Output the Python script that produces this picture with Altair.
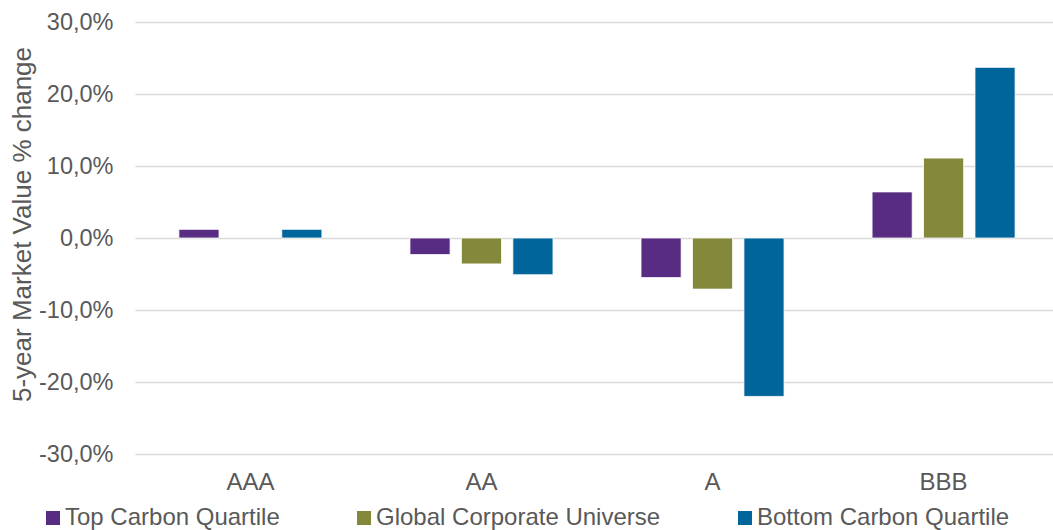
import altair as alt
import pandas as pd

categories = ["AAA", "AA", "A", "BBB"]
series = ["Top Carbon Quartile", "Global Corporate Universe", "Bottom Carbon Quartile"]
top_carbon = [0.012, -0.023, -0.055, 0.064]
global_corp = [None, -0.036, -0.071, 0.111]
bottom_carbon = [0.012, -0.051, -0.220, 0.237]
colors = ["#582C83", "#84883A", "#00659A"]
y_ticks = [-0.3, -0.2, -0.1, 0.0, 0.1, 0.2, 0.3]

rows = []
for s, vals in zip(series, [top_carbon, global_corp, bottom_carbon]):
    for c, v in zip(categories, vals):
        rows.append({"rating": c, "series": s, "value": v})
df = pd.DataFrame(rows)

FONT = "Liberation Sans"
GRAY = "#595959"

chart = alt.Chart(df).mark_bar(stroke="white", strokeWidth=0.8).encode(
    x=alt.X("rating:N", sort=categories, title=None,
            scale=alt.Scale(range=[0, 924], paddingInner=0.381, paddingOuter=0.19),
            axis=alt.Axis(labelAngle=0, labelFont=FONT, labelFontSize=24,
                          labelColor=GRAY, labelPadding=16, ticks=False,
                          domain=False, grid=False)),
    xOffset=alt.XOffset("series:N", sort=series,
                        scale=alt.Scale(paddingInner=0.22, paddingOuter=0.0)),
    y=alt.Y("value:Q", title="5-year Market Value % change",
            scale=alt.Scale(domain=[-0.3, 0.3], nice=False, zero=False),
            axis=alt.Axis(values=y_ticks,
                          labelExpr="replace(replace(format(datum.value, '.1%'), '.', ','), '\u2212', '-')",
                          labelFont=FONT, labelFontSize=23.5, labelColor=GRAY,
                          labelPadding=22, ticks=False, domain=False,
                          gridColor="#d9d9d9", gridWidth=1.5,
                          titleFont=FONT, titleFontSize=26, titleColor=GRAY,
                          titleFontWeight="normal", titleX=-113, titleY=202,
                          titleAlign="center", titleBaseline="middle")),
    color=alt.Color("series:N", sort=series,
                    scale=alt.Scale(domain=series, range=colors),
                    legend=alt.Legend(title=None, orient="none", direction="horizontal",
                                      legendX=-94, legendY=484,
                                      symbolType="square", symbolSize=196,
                                      symbolStrokeWidth=0, labelFont=FONT,
                                      labelFontSize=24, labelColor=GRAY,
                                      labelLimit=0, labelOffset=0, columnPadding=72)),
).properties(
    width=918, height=432,
    autosize=alt.AutoSizeParams(type="none"),
    padding={"left": 135, "top": 22, "right": 0, "bottom": 76},
).configure_view(stroke=None)

chart.save("out.html", embed_options={"renderer": "svg", "actions": False})
